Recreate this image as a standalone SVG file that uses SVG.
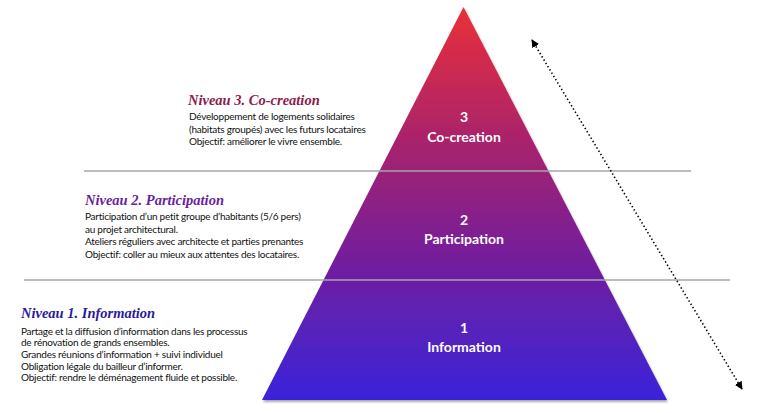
<svg xmlns="http://www.w3.org/2000/svg" width="768" height="413" viewBox="0 0 768 413">
<defs>
<linearGradient id="pyr" x1="0" y1="7" x2="0" y2="400" gradientUnits="userSpaceOnUse">
<stop offset="0" stop-color="#ea3038"/>
<stop offset="0.42" stop-color="#9a2078"/>
<stop offset="0.7" stop-color="#6a1fa6"/>
<stop offset="1" stop-color="#3a24da"/>
</linearGradient>
<filter id="sh" x="-10%" y="-10%" width="120%" height="120%">
<feGaussianBlur in="SourceAlpha" stdDeviation="1.2"/>
<feOffset dx="1" dy="1.5" result="b"/>
<feComponentTransfer><feFuncA type="linear" slope="0.35"/></feComponentTransfer>
<feMerge><feMergeNode/><feMergeNode in="SourceGraphic"/></feMerge>
</filter>
<marker id="ah" viewBox="0 0 10 10" refX="9" refY="5" markerWidth="8" markerHeight="8" orient="auto-start-reverse" markerUnits="userSpaceOnUse">
<path d="M0,0 L10,5 L0,10 z" fill="#000"/>
</marker>
</defs>
<style>
.title{font-family:"Liberation Serif","Times New Roman",serif;font-weight:bold;font-style:italic;font-size:14.5px}
.body{font-family:Lato,"Open Sans",sans-serif;font-size:10px;letter-spacing:-0.25px;fill:#111}
.lab{font-family:Lato,"Open Sans",sans-serif;font-weight:bold;font-size:14px;fill:#fff;text-anchor:middle}
.sep{stroke:#a6a6a6;stroke-width:1.6}
</style>
<rect width="768" height="413" fill="#fff"/>
<g id="pyramid">
<polygon points="463.5,7 667,400 262,400" fill="url(#pyr)" filter="url(#sh)"/>
</g>
<g id="connectors">
<line class="sep" x1="84" y1="171" x2="691" y2="171"/>
<line class="sep" x1="24" y1="280" x2="730" y2="280"/>
<line x1="532" y1="40" x2="742" y2="389" stroke="#000" stroke-width="1.6" stroke-dasharray="1.4 2.4" marker-start="url(#ah)" marker-end="url(#ah)"/>
</g>
<g id="level3">
<text class="lab" x="464" y="122">3</text>
<text class="lab" x="464" y="142">Co-creation</text>
<text class="title" x="188" y="105" fill="#8c1a4c">Niveau 3. Co-creation</text>
<text class="body" x="189" y="120">Développement de logements solidaires</text>
<text class="body" x="189" y="132.5">(habitats groupés) avec les futurs locataires</text>
<text class="body" x="189" y="145">Objectif: améliorer le vivre ensemble.</text>
</g>
<g id="level2">
<text class="lab" x="464" y="225">2</text>
<text class="lab" x="464" y="244">Participation</text>
<text class="title" x="85" y="205" fill="#6a1fa0">Niveau 2. Participation</text>
<text class="body" x="85" y="220">Participation d’un petit groupe d’habitants (5/6 pers)</text>
<text class="body" x="85" y="232.5">au projet architectural.</text>
<text class="body" x="85" y="245">Ateliers réguliers avec architecte et parties prenantes</text>
<text class="body" x="85" y="257.5">Objectif: coller au mieux aux attentes des locataires.</text>
</g>
<g id="level1">
<text class="lab" x="464" y="333">1</text>
<text class="lab" x="464" y="352">Information</text>
<text class="title" x="21" y="318" fill="#2a1a9c">Niveau 1. Information</text>
<text class="body" x="21" y="334.5">Partage et la diffusion d’information dans les processus</text>
<text class="body" x="21" y="346">de rénovation de grands ensembles.</text>
<text class="body" x="21" y="358">Grandes réunions d’information + suivi individuel</text>
<text class="body" x="21" y="369.5">Obligation légale du bailleur d’informer.</text>
<text class="body" x="21" y="381">Objectif: rendre le déménagement fluide et possible.</text>
</g>
</svg>
